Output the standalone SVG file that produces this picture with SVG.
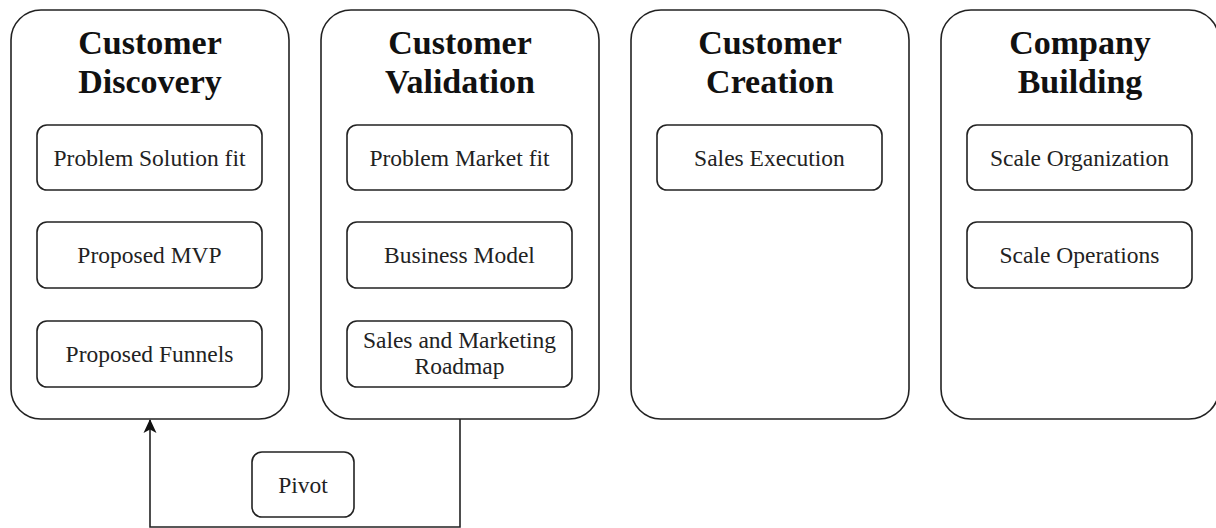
<svg xmlns="http://www.w3.org/2000/svg" width="1216" height="528" viewBox="0 0 1216 528">
<defs>
<style>
.stage{fill:#fff;stroke:#222;stroke-width:1.6}
.item{fill:#fff;stroke:#222;stroke-width:1.6}
.title{font-family:"Liberation Serif",serif;font-weight:bold;font-size:34px;fill:#111;text-anchor:middle}
.lbl{font-family:"Liberation Serif",serif;font-size:23.5px;fill:#222;text-anchor:middle}
.conn{fill:none;stroke:#222;stroke-width:1.6}
</style>
<marker id="arr" viewBox="0 0 14 14" refX="13" refY="7" markerWidth="14" markerHeight="14" markerUnits="userSpaceOnUse" orient="auto">
<path d="M0,0.5 L14,7 L0,13.5 L3.5,7 Z" fill="#111"/>
</marker>
</defs>
<rect width="1216" height="528" fill="#fff"/>
<g id="connectors">
<path class="conn" d="M460,419 V527 H150 V420" marker-end="url(#arr)"/>
</g>
<g id="customer-discovery">
<rect class="stage" x="11" y="10" width="278" height="409" rx="30"/>
<text class="title" x="150" y="54">Customer</text>
<text class="title" x="150" y="93">Discovery</text>
</g>
<g id="problem-solution-fit"><rect class="item" x="37" y="125" width="225" height="65" rx="10"/><text class="lbl" x="149.5" y="166">Problem Solution fit</text></g>
<g id="proposed-mvp"><rect class="item" x="37" y="222" width="225" height="66" rx="10"/><text class="lbl" x="149.5" y="263">Proposed MVP</text></g>
<g id="proposed-funnels"><rect class="item" x="37" y="321" width="225" height="66" rx="10"/><text class="lbl" x="149.5" y="362">Proposed Funnels</text></g>
<g id="customer-validation">
<rect class="stage" x="321" y="10" width="278" height="409" rx="30"/>
<text class="title" x="460" y="54">Customer</text>
<text class="title" x="460" y="93">Validation</text>
</g>
<g id="problem-market-fit"><rect class="item" x="347" y="125" width="225" height="65" rx="10"/><text class="lbl" x="459.5" y="166">Problem Market fit</text></g>
<g id="business-model"><rect class="item" x="347" y="222" width="225" height="66" rx="10"/><text class="lbl" x="459.5" y="263">Business Model</text></g>
<g id="sales-marketing-roadmap"><rect class="item" x="347" y="321" width="225" height="66" rx="10"/><text class="lbl" x="459.5" y="348">Sales and Marketing</text><text class="lbl" x="459.5" y="374">Roadmap</text></g>
<g id="customer-creation">
<rect class="stage" x="631" y="10" width="278" height="409" rx="30"/>
<text class="title" x="770" y="54">Customer</text>
<text class="title" x="770" y="93">Creation</text>
</g>
<g id="sales-execution"><rect class="item" x="657" y="125" width="225" height="65" rx="10"/><text class="lbl" x="769.5" y="166">Sales Execution</text></g>
<g id="company-building">
<rect class="stage" x="941" y="10" width="278" height="409" rx="30"/>
<text class="title" x="1080" y="54">Company</text>
<text class="title" x="1080" y="93">Building</text>
</g>
<g id="scale-organization"><rect class="item" x="967" y="125" width="225" height="65" rx="10"/><text class="lbl" x="1079.5" y="166">Scale Organization</text></g>
<g id="scale-operations"><rect class="item" x="967" y="222" width="225" height="66" rx="10"/><text class="lbl" x="1079.5" y="263">Scale Operations</text></g>
<g id="pivot"><rect class="item" x="252" y="452" width="102" height="65" rx="10"/><text class="lbl" x="303" y="493">Pivot</text></g>
</svg>
